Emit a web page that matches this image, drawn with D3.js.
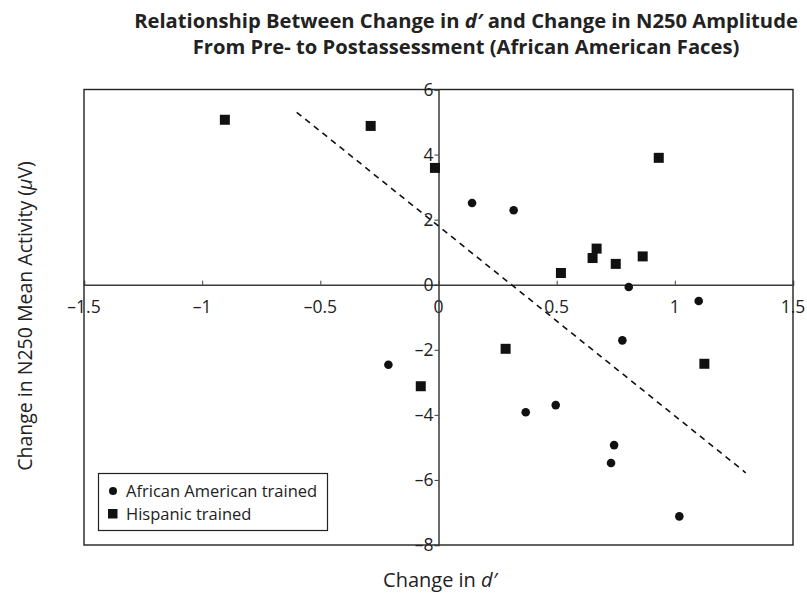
<!DOCTYPE html>
<html>
<head>
<meta charset="utf-8">
<script src="https://cdn.jsdelivr.net/npm/d3@7"></script>
<style>
  html, body { margin: 0; padding: 0; background: #fff; }
  svg { display: block; font-family: "Open Sans", "Noto Sans", sans-serif; }
</style>
</head>
<body>
<svg id="chart" width="807" height="597"></svg>
<script>
// Change in d' (x) and change in N250 amplitude (y), per training group
const africanAmericanX = [0.142, 0.318, 0.805, 1.101, 0.778, -0.212, 0.369, 0.496, 0.743, 0.730, 1.019];
const africanAmericanY = [2.51, 2.29, -0.07, -0.50, -1.71, -2.46, -3.92, -3.70, -4.93, -5.48, -7.12];

const hispanicX = [-0.904, -0.287, -0.015, 0.932, 0.518, 0.652, 0.669, 0.750, 0.864, 0.284, 1.125, -0.075];
const hispanicY = [5.07, 4.88, 3.59, 3.90, 0.36, 0.82, 1.11, 0.64, 0.87, -1.97, -2.43, -3.12];

// Fitted regression line, endpoints
const trendX = [-0.6, 1.3];
const trendY = [5.3, -5.78];

const xTicks = [-1.5, -1, -0.5, 0, 0.5, 1, 1.5];
const yTicks = [-8, -6, -4, -2, 0, 2, 4, 6];

const legendLabels = ["African American trained", "Hispanic trained"];

const svg = d3.select("#chart");
const box = { left: 84, right: 793, top: 89.5, bottom: 545 };

const x = d3.scaleLinear().domain([-1.5, 1.5]).range([box.left, box.right]);
const y = d3.scaleLinear().domain([-8, 6]).range([box.bottom, box.top]);

const minus = s => String(s).replace("-", "\u2013");
const axisColor = "#3a3a3a";
const textColor = "#222";

// Title
const title = svg.append("text")
  .attr("x", 466).attr("text-anchor", "middle")
  .attr("font-weight", "bold").attr("font-size", 20.2).attr("fill", textColor);
const t1 = title.append("tspan").attr("x", 466).attr("y", 28);
t1.append("tspan").text("Relationship Between Change in ");
t1.append("tspan").attr("font-style", "italic").text("d\u2032");
t1.append("tspan").text(" and Change in N250 Amplitude");
title.append("tspan").attr("x", 466).attr("y", 54)
  .text("From Pre- to Postassessment (African American Faces)");

// Frame
svg.append("rect")
  .attr("x", box.left).attr("y", box.top)
  .attr("width", box.right - box.left).attr("height", box.bottom - box.top)
  .attr("fill", "none").attr("stroke", "#222").attr("stroke-width", 1.4);

// Horizontal axis through y = 0
const xAxis = d3.axisTop(x).tickValues(xTicks).tickSize(4).tickFormat("");
const gx = svg.append("g").attr("transform", `translate(0,${y(0)})`).call(xAxis);
gx.select(".domain").attr("stroke", axisColor).attr("stroke-width", 1.5);
gx.selectAll(".tick line").attr("stroke", axisColor);
svg.append("g").selectAll("text").data(xTicks).join("text")
  .attr("x", d => x(d)).attr("y", y(0) + 28)
  .attr("text-anchor", "middle").attr("font-size", 17.5).attr("fill", textColor)
  .text(d => minus(d));

// Vertical axis through x = 0
const yAxis = d3.axisLeft(y).tickValues(yTicks).tickSize(4).tickFormat("");
const gy = svg.append("g").attr("transform", `translate(${x(0)},0)`).call(yAxis);
gy.select(".domain").attr("stroke", axisColor).attr("stroke-width", 1.5);
gy.selectAll(".tick line").attr("stroke", axisColor);
svg.append("g").selectAll("text").data(yTicks).join("text")
  .attr("x", x(0) - 5).attr("y", d => y(d) + 6)
  .attr("text-anchor", "end").attr("font-size", 17.5).attr("fill", textColor)
  .text(d => minus(d));

// Regression line
svg.append("line")
  .attr("x1", x(trendX[0])).attr("y1", y(trendY[0]))
  .attr("x2", x(trendX[1])).attr("y2", y(trendY[1]))
  .attr("stroke", "#111").attr("stroke-width", 1.6).attr("stroke-dasharray", "6,5");

// Points
const aaData = africanAmericanX.map((v, i) => ({ x: v, y: africanAmericanY[i] }));
const hiData = hispanicX.map((v, i) => ({ x: v, y: hispanicY[i] }));
const sq = 10;

svg.append("g").selectAll("circle").data(aaData).join("circle")
  .attr("cx", d => x(d.x)).attr("cy", d => y(d.y)).attr("r", 4.3).attr("fill", "#111");

svg.append("g").selectAll("rect").data(hiData).join("rect")
  .attr("x", d => x(d.x) - sq / 2).attr("y", d => y(d.y) - sq / 2)
  .attr("width", sq).attr("height", sq).attr("fill", "#111");

// Legend
const lg = svg.append("g");
lg.append("rect").attr("x", 98.5).attr("y", 473.5).attr("width", 229).attr("height", 57)
  .attr("fill", "#fff").attr("stroke", "#222").attr("stroke-width", 1.2);
lg.append("circle").attr("cx", 113).attr("cy", 491).attr("r", 4).attr("fill", "#111");
lg.append("rect").attr("x", 108).attr("y", 509).attr("width", 9.5).attr("height", 9.5).attr("fill", "#111");
lg.selectAll("text").data(legendLabels).join("text")
  .attr("x", 126).attr("y", (d, i) => 497 + i * 23)
  .attr("font-size", 16.5).attr("fill", textColor)
  .text(d => d);

// Axis titles
const xl = svg.append("text").attr("x", 440).attr("y", 587)
  .attr("text-anchor", "middle").attr("font-size", 20).attr("fill", textColor);
xl.append("tspan").text("Change in ");
xl.append("tspan").attr("font-style", "italic").text("d\u2032");

const yl = svg.append("text")
  .attr("transform", "translate(32,316) rotate(-90)")
  .attr("text-anchor", "middle").attr("font-size", 19.5).attr("fill", textColor);
yl.append("tspan").text("Change in N250 Mean Activity (");
yl.append("tspan").attr("font-style", "italic").text("\u03BC");
yl.append("tspan").text("V)");
</script>
</body>
</html>
